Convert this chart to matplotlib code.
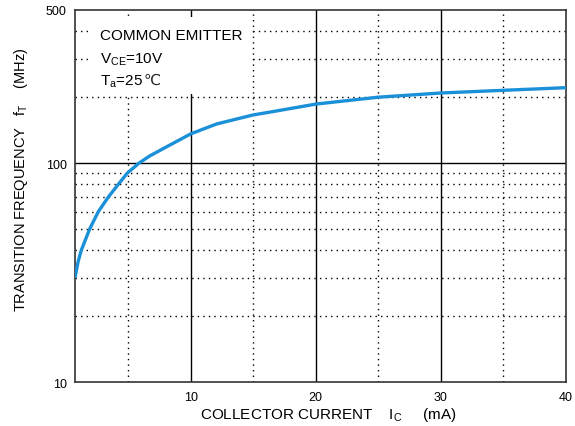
import numpy as np
from matplotlib import pyplot as plt
from matplotlib.patches import Rectangle

# collector current (mA) vs transition frequency (MHz)
ic = [0.75, 1.0, 1.25, 1.92, 2.61, 3.41, 4.21, 4.93, 5.86, 6.74, 8.34, 10.0, 12.08, 15.0, 16.34, 20.0, 25.0, 30.0, 35.0, 40.0]
ft = [30, 35.5, 40, 50, 60, 70, 80, 90, 100, 108, 121, 136, 151, 166, 171, 186, 200, 209, 215, 221]

xticks = [10, 20, 30, 40]
yticks = [10, 100, 500]
x_minor = [5, 15, 25, 35]
y_minor = [20, 30, 40, 50, 60, 70, 80, 90, 200, 300, 400]

plt.rcParams['font.family'] = ['Liberation Sans', 'DejaVu Sans']
plt.rcParams['mathtext.fontset'] = 'custom'
plt.rcParams['mathtext.rm'] = 'Liberation Sans'

fig = plt.figure(figsize=(5.75, 4.27), dpi=100)
ax = fig.add_axes([0.1304, 0.1023, 0.8539, 0.8720])

ax.set_yscale("log")
ax.set_xlim(0.75, 40)
ax.set_ylim(10, 500)

for x in xticks[:-1]:
    ax.axvline(x, color="black", lw=1.0, zorder=1)
for x in x_minor:
    ax.axvline(x, color="black", lw=1.0, ls=(0, (1, 3)), zorder=1)
ax.axhline(100, color="black", lw=1.0, zorder=1)
for y in y_minor:
    ax.axhline(y, color="black", lw=1.0, ls=(0, (1, 3)), zorder=1)

# white box behind the conditions text
ax.add_patch(Rectangle((1.78, 207), 14.74 - 1.78, 466 - 207, facecolor="white",
                       edgecolor="none", zorder=1.5))

ax.plot(ic, ft, color="#1a90d8", lw=2.4, zorder=3, solid_capstyle="butt")

ax.set_xticks(xticks)
ax.set_xticklabels([str(v) for v in xticks])
ax.set_yticks(yticks)
ax.set_yticklabels([str(v) for v in yticks])
ax.minorticks_off()
ax.tick_params(length=0, labelsize=9, pad=6)

for s in ax.spines.values():
    s.set_linewidth(1.2)
    s.set_color("#333333")

ax.set_xlabel(r"COLLECTOR CURRENT    $\mathregular{I_C}$     (mA)", fontsize=11)
ax.set_ylabel(r"TRANSITION FREQUENCY   $\mathregular{f_T}$    (MHz)", fontsize=10.5)
ax.xaxis.set_label_coords(0.517, -0.062)
ax.yaxis.set_label_coords(-0.092, 0.546)

ax.text(2.74, 370, "COMMON EMITTER", fontsize=11, va="baseline", zorder=4)
ax.text(2.74, 290, r"V$_\mathregular{CE}$=10V", fontsize=11, va="baseline", zorder=4)
t = ax.text(2.74, 230, r"T$_\mathregular{a}$=25", fontsize=11, va="baseline", zorder=4)

# degree-celsius sign set right after the temperature text
fig.canvas.draw()
bb = t.get_window_extent()
x0, _ = ax.transData.inverted().transform((bb.x1 + 1, 0))
ax.text(x0, 230, "\u2103", fontsize=11, va="baseline", zorder=4,
        family=["DejaVu Sans"], color="#222222")

fig.savefig("out.png", dpi=100)
